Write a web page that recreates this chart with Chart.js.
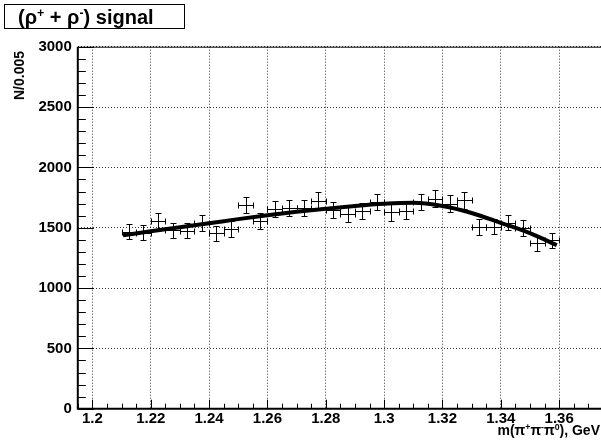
<!DOCTYPE html>
<html>
<head>
<meta charset="utf-8">
<script src="https://cdn.jsdelivr.net/npm/chart.js@4.4.1/dist/chart.umd.min.js"></script>
<style>
  html, body { margin: 0; padding: 0; background: #fff; overflow: hidden; }
  body { width: 601px; height: 447px; position: relative; font-family: "Liberation Sans", Arial, sans-serif; font-weight: bold; color: #000; }
  #wrap { position: absolute; left: 0; top: 0; width: 612px; height: 447px; }
  sup { font-size: 62%; line-height: 0; vertical-align: 0.6em; }
  .title { position: absolute; left: 4px; top: 4px; width: 181px; height: 25px; box-sizing: border-box; border: 1px solid #000; font-size: 20px; line-height: 24px; padding-left: 13px; white-space: nowrap; }
  .ytitle { position: absolute; left: 11px; top: 51px; font-size: 14px; line-height: 16px; white-space: nowrap; transform-origin: 0 0; transform: rotate(-90deg) translateX(-100%); }
  .xtitle { position: absolute; right: 1px; top: 422px; font-size: 14px; line-height: 16px; white-space: nowrap; }
</style>
</head>
<body>
<div id="wrap"><canvas id="chart"></canvas></div>
<div class="title">(&rho;<sup>+</sup> + &rho;<sup>-</sup>) signal</div>
<div class="ytitle">N/0.005</div>
<div class="xtitle">m(&pi;<sup>+</sup>&pi;<sup>-</sup>&pi;<sup>0</sup>), GeV</div>
<script>
// histogram bins (centre, content, error), bin width 0.005
const binCenters = [1.2125, 1.2175, 1.2225, 1.2275, 1.2325, 1.2375, 1.2425, 1.2475, 1.2525, 1.2575,
                    1.2625, 1.2675, 1.2725, 1.2775, 1.2825, 1.2875, 1.2925, 1.2975, 1.3025, 1.3075,
                    1.3125, 1.3175, 1.3225, 1.3275, 1.3325, 1.3375, 1.3425, 1.3475, 1.3525, 1.3575];
const counts = [1467, 1460, 1556, 1478, 1475, 1537, 1455, 1490, 1690, 1555,
                1654, 1663, 1662, 1724, 1648, 1614, 1639, 1711, 1626, 1642,
                1712, 1740, 1700, 1726, 1507, 1508, 1543, 1498, 1371, 1396];
const countErrors = [63, 63, 65, 63, 63, 65, 63, 64, 68, 65,
                     67, 67, 67, 69, 67, 66, 67, 68, 67, 67,
                     68, 69, 68, 69, 64, 64, 65, 64, 61, 62];
const binHalfWidth = 0.0025;

// fitted curve
const fitX = [1.2105, 1.22, 1.23, 1.24, 1.25, 1.26, 1.27, 1.28, 1.29, 1.30, 1.31, 1.32, 1.33, 1.34, 1.35, 1.3592];
const fitY = [1437, 1470, 1504, 1537, 1571, 1603, 1632, 1657, 1680, 1698, 1707, 1680, 1622, 1540, 1455, 1355];

const xTicks = [1.2, 1.22, 1.24, 1.26, 1.28, 1.3, 1.32, 1.34, 1.36];
const yTicks = [0, 500, 1000, 1500, 2000, 2500, 3000];

const labelFont = { family: '"Liberation Sans", Arial, sans-serif', size: 15, weight: 'bold' };

const errorBars = {
  id: 'errorBars',
  beforeDatasetsDraw(chart) {
    const { ctx, scales: { x, y } } = chart;
    const cap = 3;
    const snap = v => Math.round(v) + 0.5;
    ctx.save();
    ctx.strokeStyle = '#000';
    ctx.lineWidth = 1;
    binCenters.forEach((c, i) => {
      const px = snap(x.getPixelForValue(c));
      const py = snap(y.getPixelForValue(counts[i]));
      const xl = snap(x.getPixelForValue(c - binHalfWidth));
      const xr = snap(x.getPixelForValue(c + binHalfWidth));
      const yt = snap(y.getPixelForValue(counts[i] + countErrors[i]));
      const yb = snap(y.getPixelForValue(counts[i] - countErrors[i]));
      ctx.beginPath();
      ctx.moveTo(xl, py); ctx.lineTo(xr, py);
      ctx.moveTo(px, yt); ctx.lineTo(px, yb);
      ctx.moveTo(xl, py - cap); ctx.lineTo(xl, py + cap);
      ctx.moveTo(xr, py - cap); ctx.lineTo(xr, py + cap);
      ctx.moveTo(px - cap, yt); ctx.lineTo(px + cap, yt);
      ctx.moveTo(px - cap, yb); ctx.lineTo(px + cap, yb);
      ctx.stroke();
    });
    ctx.restore();
  }
};

// ROOT-like frame with ticks on the inside
const frame = {
  id: 'frame',
  afterDatasetsDraw(chart) {
    const { ctx, chartArea: a, scales: { x, y } } = chart;
    ctx.save();
    ctx.strokeStyle = '#000';
    ctx.lineWidth = 1;
    ctx.beginPath();
    for (let v = 0; v <= 3000; v += 100) {
      const py = Math.round(y.getPixelForValue(v)) + 0.5;
      const len = v % 500 === 0 ? 16 : 8;
      ctx.moveTo(a.left, py); ctx.lineTo(a.left + len, py);
    }
    for (let k = -1; k <= 35; k++) {
      const px = Math.round(x.getPixelForValue(1.2 + k * 0.005)) + 0.5;
      const len = ((k % 4) + 4) % 4 === 0 ? 9 : 5;
      ctx.moveTo(px, a.bottom); ctx.lineTo(px, a.bottom - len);
    }
    ctx.moveTo(a.left, a.top + 0.5); ctx.lineTo(a.right, a.top + 0.5);
    ctx.moveTo(a.right - 0.5, a.top); ctx.lineTo(a.right - 0.5, a.bottom);
    ctx.stroke();
    ctx.lineWidth = 2;
    ctx.beginPath();
    ctx.moveTo(a.left, a.top); ctx.lineTo(a.left, a.bottom);
    ctx.lineTo(a.right, a.bottom);
    ctx.stroke();
    ctx.restore();
  }
};

new Chart(document.getElementById('chart'), {
  type: 'scatter',
  data: {
    datasets: [{
      type: 'line',
      label: 'fit',
      data: fitX.map((v, i) => ({ x: v, y: fitY[i] })),
      borderColor: '#000',
      borderWidth: 4,
      pointRadius: 0,
      fill: false,
      cubicInterpolationMode: 'monotone'
    }, {
      label: 'signal',
      data: binCenters.map((v, i) => ({ x: v, y: counts[i] })),
      pointRadius: 0,
      showLine: false
    }]
  },
  options: {
    responsive: true,
    maintainAspectRatio: false,
    animation: false,
    layout: { autoPadding: false, padding: { left: 0, top: 46.7, right: 9.1, bottom: 0 } },
    plugins: { legend: { display: false }, tooltip: { enabled: false } },
    scales: {
      x: {
        type: 'linear', min: 1.195, max: 1.375,
        afterBuildTicks: s => { s.ticks = xTicks.map(v => ({ value: v })); },
        afterFit: s => { s.height = 38.3; },
        ticks: { font: labelFont, color: '#000', padding: 1, maxRotation: 0, autoSkip: false, callback: v => String(v) },
        grid: { color: 'rgba(0,0,0,0.8)', lineWidth: 1, drawTicks: false },
        border: { display: false, dash: [1, 2] }
      },
      y: {
        min: 0, max: 3000,
        afterBuildTicks: s => { s.ticks = yTicks.map(v => ({ value: v })); },
        afterFit: s => { s.width = 77.8; },
        ticks: { font: labelFont, color: '#000', padding: 6, callback: v => String(v) },
        grid: { color: 'rgba(0,0,0,0.8)', lineWidth: 1, drawTicks: false },
        border: { display: false, dash: [1, 2] }
      }
    }
  },
  plugins: [errorBars, frame]
});
</script>
</body>
</html>
